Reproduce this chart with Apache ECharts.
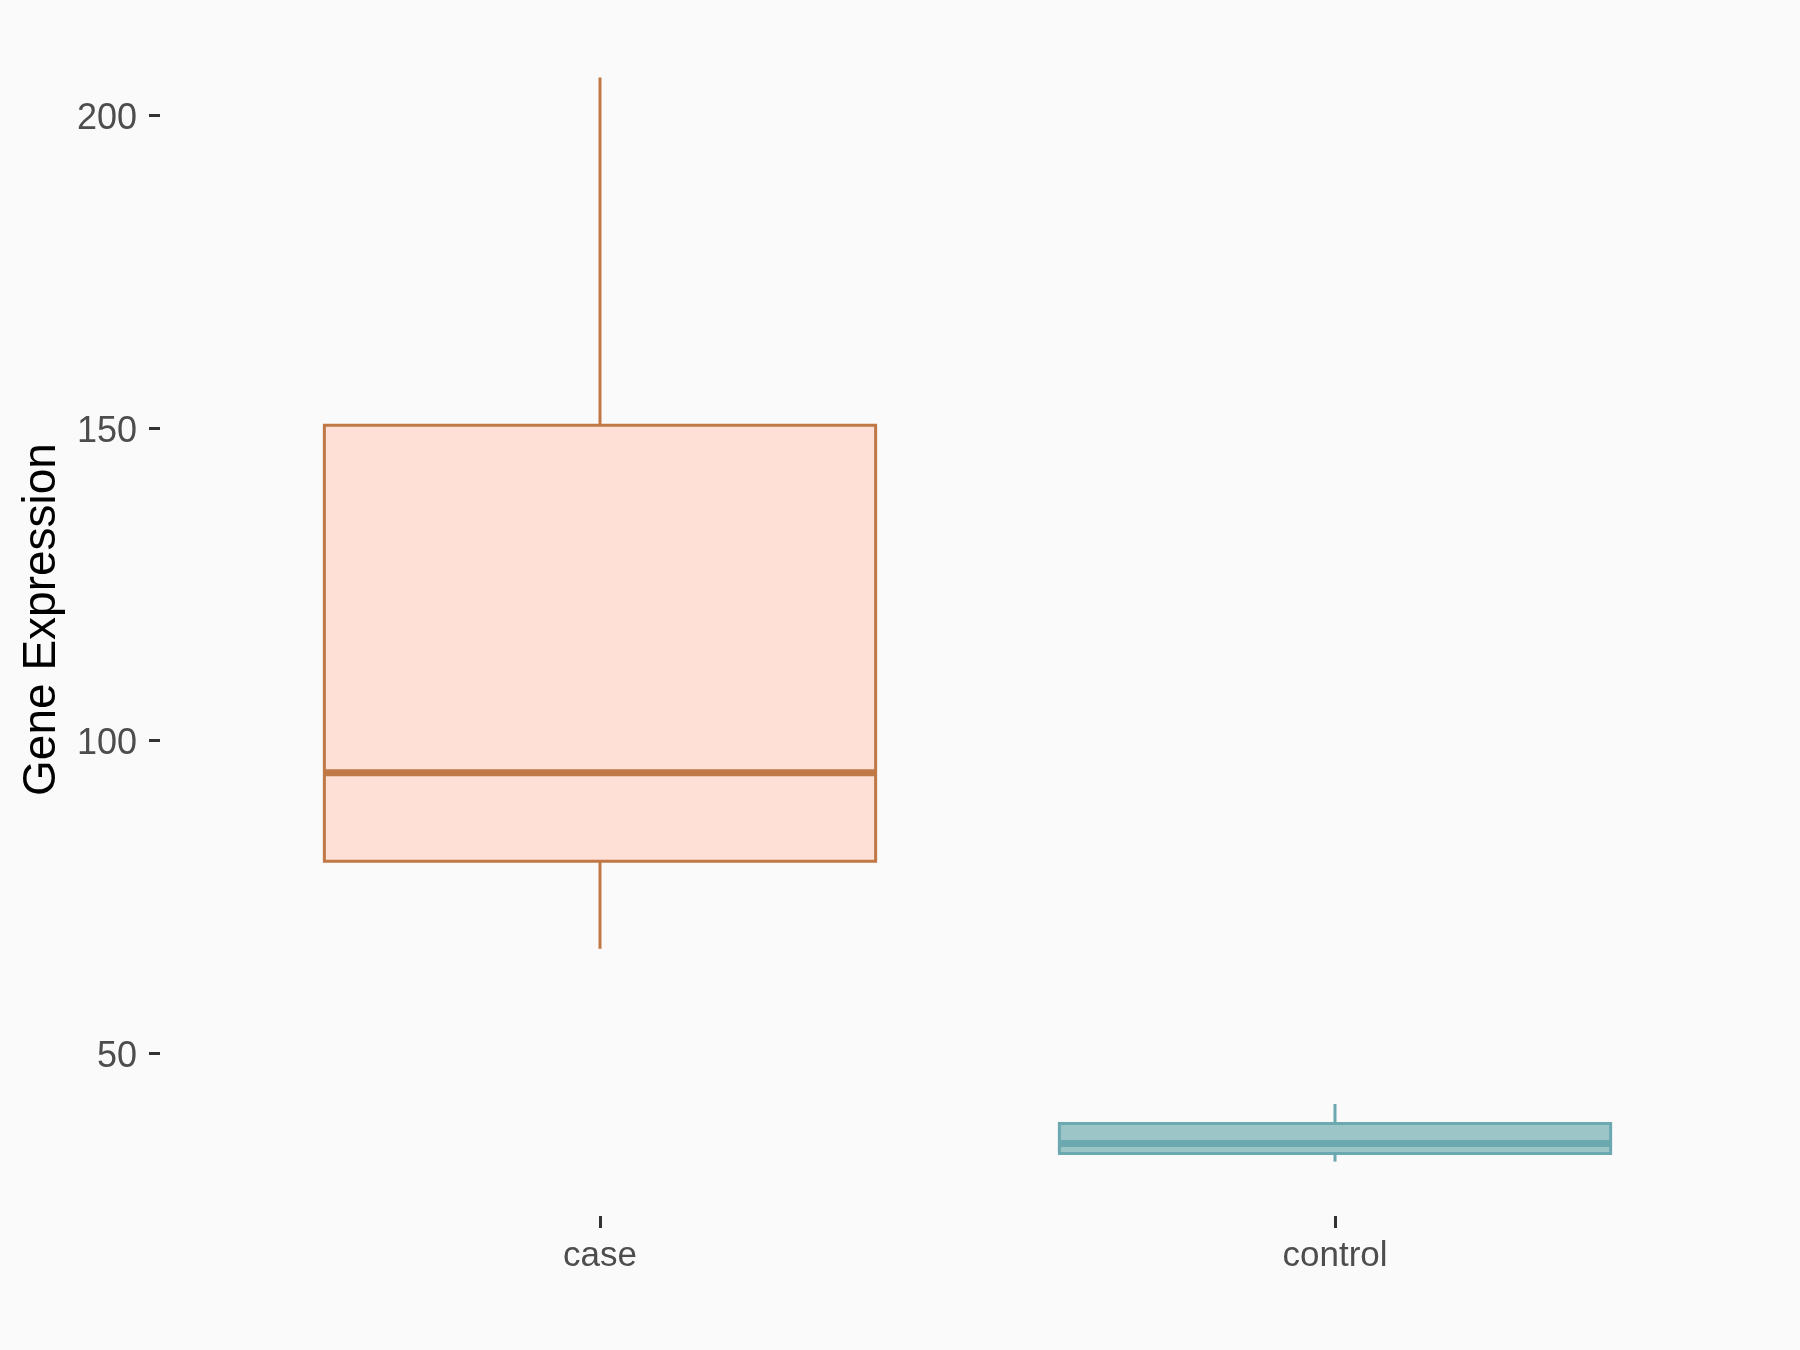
<!DOCTYPE html>
<html>
<head>
<meta charset="utf-8">
<script src="https://cdn.jsdelivr.net/npm/echarts@6/dist/echarts.min.js"></script>
<style>
html,body{margin:0;padding:0;background:#FAFAFA;}
#chart{width:1800px;height:1350px;}
</style>
</head>
<body>
<div id="chart"></div>
<script>
// ---- data ----
const categories = ['case', 'control'];
const minVals    = [66.7, 32.7];
const q1Vals     = [80.7, 34.0];
const medianVals = [94.85, 35.6];
const q3Vals     = [150.4, 38.8];
const maxVals    = [206.0, 41.9];
const yTickValues = [50, 100, 150, 200];
const yAxisTitle = 'Gene Expression';

// ---- styles ----
const strokeColors = ['#C07846', '#6CA8B0'];
const fillColors   = ['#FEE0D6', '#9CC5C8'];

const seriesData = categories.map((c, i) => [i, minVals[i], q1Vals[i], medianVals[i], q3Vals[i], maxVals[i]]);

const chart = echarts.init(document.getElementById('chart'), null, {renderer: 'canvas'});

function renderItem(params, api) {
  const idx = api.value(0);
  const vmin = api.value(1), vq1 = api.value(2), vmed = api.value(3), vq3 = api.value(4), vmax = api.value(5);
  const bw = api.size([1, 0])[0];
  const half = bw * 0.75 / 2;
  const pMin = api.coord([idx, vmin]);
  const pQ1 = api.coord([idx, vq1]);
  const pMed = api.coord([idx, vmed]);
  const pQ3 = api.coord([idx, vq3]);
  const pMax = api.coord([idx, vmax]);
  const cx = pMed[0];
  const stroke = strokeColors[idx];
  const fill = fillColors[idx];
  return {
    type: 'group',
    children: [
      {type: 'line', shape: {x1: cx, y1: pQ3[1], x2: cx, y2: pMax[1]}, style: {stroke: stroke, lineWidth: 3}},
      {type: 'line', shape: {x1: cx, y1: pQ1[1], x2: cx, y2: pMin[1]}, style: {stroke: stroke, lineWidth: 3}},
      {type: 'rect', shape: {x: cx - half, y: pQ3[1], width: half * 2, height: pQ1[1] - pQ3[1]}, style: {fill: fill, stroke: stroke, lineWidth: 3}},
      {type: 'line', shape: {x1: cx - half, y1: pMed[1], x2: cx + half, y2: pMed[1]}, style: {stroke: stroke, lineWidth: 7}}
    ]
  };
}

const option = {
  backgroundColor: '#FAFAFA',
  animation: false,
  grid: {left: 232.5, top: 23, width: 1470, height: 1193, containLabel: false},
  xAxis: {
    type: 'category',
    data: categories,
    boundaryGap: true,
    axisLine: {show: false},
    axisTick: {show: true, alignWithLabel: true, length: 12, lineStyle: {color: '#333333', width: 3}},
    axisLabel: {color: '#4D4D4D', fontSize: 35, fontFamily: 'Liberation Sans, Arial, sans-serif', margin: 23},
    splitLine: {show: false}
  },
  yAxis: {
    type: 'value',
    min: 24.0,
    max: 214.7,
    offset: 72.5,
    axisLine: {show: false},
    axisTick: {show: true, length: 11, customValues: yTickValues, lineStyle: {color: '#333333', width: 3}},
    axisLabel: {
      margin: 23,
      customValues: yTickValues,
      formatter: '{v|{value}}',
      rich: {v: {color: '#4D4D4D', fontSize: 36, fontFamily: 'Liberation Sans, Arial, sans-serif', padding: [8, 0, 0, 0]}}
    },
    splitLine: {show: false},
    name: yAxisTitle,
    nameLocation: 'middle',
    nameRotate: 90,
    nameGap: 95,
    nameTextStyle: {color: '#000000', fontSize: 46, fontFamily: 'Liberation Sans, Arial, sans-serif'}
  },
  series: [{
    type: 'custom',
    renderItem: renderItem,
    encode: {x: 0, y: [1, 2, 3, 4, 5]},
    data: seriesData
  }]
};
chart.setOption(option);
</script>
</body>
</html>
